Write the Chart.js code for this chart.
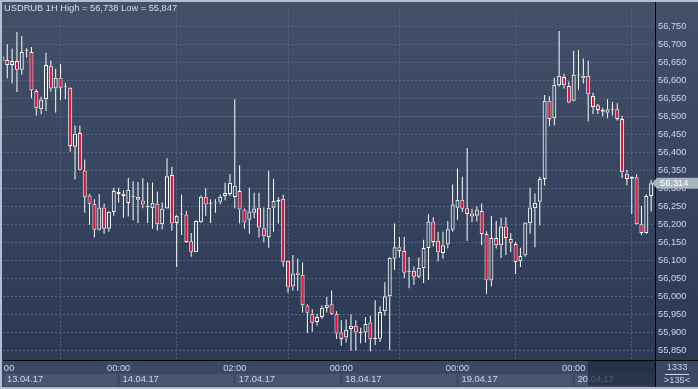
<!DOCTYPE html>
<html><head><meta charset="utf-8">
<script src="https://cdn.jsdelivr.net/npm/chart.js@4.4.1/dist/chart.umd.min.js"></script>
<style>html,body{margin:0;padding:0;background:#2f3c57;overflow:hidden}#wrap{width:698px;height:389px;position:relative}canvas{display:block}</style>
</head><body><div id="wrap"><canvas id="c" width="698" height="389"></canvas></div>
<script>
const opens = [56667,56657,56643,56654,56630,56683,56679,56571,56520,56548,
56641,56578,56608,56581,56580,56416,56454,56350,56280,56257,
56185,56247,56188,56234,56290,56285,56259,56275,56268,56266,
56248,56245,56257,56200,56244,56337,56204,56227,56227,56153,
56122,56206,56277,56257,56258,56263,56279,56284,56276,56293,
56241,56213,56232,56246,56189,56164,56246,56263,56271,56099,
56027,56066,56060,55974,55951,55928,55942,55967,55978,55951,
55899,55885,55909,55918,55898,55899,55927,55884,55882,55958,
56000,56104,56136,56126,56067,56071,56054,56078,56134,56208,
56154,56120,56144,56185,56246,56268,56245,56230,56224,56237,
56173,56044,56162,56142,56194,56159,56145,56097,56113,56203,
56245,56263,56326,56544,56495,56587,56610,56585,56544,56614,
56613,56613,56557,56531,56518,56510,56519,56520,56493,56341,
56327,56331,56200,56176,56279];
const highs = [56670,56701,56689,56735,56724,56690,56693,56576,56555,56677,
56656,56633,56646,56594,56581,56475,56474,56380,56284,56270,
56284,56258,56238,56302,56302,56295,56329,56320,56318,56328,
56316,56316,56291,56261,56384,56360,56226,56282,56238,56176,
56211,56281,56300,56270,56270,56282,56316,56340,56548,56364,
56244,56302,56288,56288,56247,56349,56327,56275,56282,56100,
56115,56104,56094,55978,55964,55951,55974,55998,56016,55958,
55933,55935,55949,55933,55912,55942,55946,55989,55972,56039,
56109,56202,56165,56165,56109,56083,56108,56157,56228,56220,
56179,56179,56209,56311,56355,56332,56412,56243,56250,56258,
56181,56223,56209,56218,56220,56176,56151,56135,56206,56302,
56286,56332,56560,56556,56608,56738,56619,56597,56683,56685,
56661,56655,56566,56535,56524,56548,56541,56537,56502,56352,
56334,56339,56252,56283,56323];
const lows = [56652,56606,56592,56568,56617,56664,56551,56503,56506,56515,
56569,56511,56546,56548,56402,56325,56350,56232,56199,56163,
56183,56174,56179,56224,56261,56218,56222,56211,56204,56245,
56204,56188,56183,56186,56243,56182,56081,56170,56149,56110,
56122,56204,56224,56204,56232,56256,56267,56279,56245,56202,
56188,56174,56217,56163,56150,56135,56179,56202,56083,56010,
56016,56015,55955,55898,55901,55918,55937,55955,55948,55881,
55862,55871,55848,55848,55869,55871,55847,55864,55873,55946,
55850,56073,56108,56051,56022,56031,56051,56037,56045,56138,
56097,56104,56133,56179,56213,56234,56154,56206,56208,56142,
56007,56027,56133,56106,56115,56122,56062,56081,56110,56174,
56136,56197,56308,56473,56475,56583,56578,56537,56542,56574,
56592,56486,56507,56507,56500,56495,56503,56489,56329,56308,
56228,56199,56170,56174,56236];
const closes = [56655,56643,56654,56630,56679,56683,56573,56523,56547,56643,
56578,56608,56580,56583,56418,56452,56352,56277,56257,56185,
56247,56188,56235,56293,56284,56279,56296,56277,56277,56255,
56248,56260,56200,56244,56334,56202,56224,56227,56151,56124,
56209,56277,56255,56258,56260,56277,56287,56315,56307,56241,
56205,56236,56244,56191,56167,56246,56265,56268,56096,56024,
56063,56058,55975,55954,55926,55942,55968,55976,55951,55896,
55881,55907,55918,55899,55898,55923,55880,55880,55956,56000,
56107,56136,56126,56065,56067,56054,56079,56134,56208,56151,
56122,56142,56186,56255,56268,56243,56229,56222,56241,56173,
56044,56162,56142,56194,56162,56149,56095,56112,56205,56247,
56260,56326,56544,56493,56588,56613,56587,56539,56616,56615,
56606,56562,56526,56518,56513,56520,56519,56493,56345,56326,
56332,56200,56176,56279,56314];
const hourTicks = [24, 48, 70, 94, 118];
const hourLabels = ['00:00', '02:00', '00:00', '00:00', '00:00'];
const firstHourLabel = '00:00';
const dayStarts = [0, 24, 48, 70, 94, 118];
const dayLabels = ['13.04.17', '14.04.17', '17.04.17', '18.04.17', '19.04.17', '20.04.17'];
const priceTicks = [55850,55900,55950,56000,56050,56100,56150,56200,56250,56300,56350,56400,56450,56500,56550,56600,56650,56700,56750];
const titleText = 'USDRUB 1H High = 56,738 Low = 55,847';
const barsTotalText = '1333';
const barsVisibleText = '>135<';

const FONT = "'Liberation Sans', Arial, sans-serif";
const FSIZE = 9.3;
const RED = '#e2163d';
const GRID = '#56647f';
const LABEL = '#c9d6ec';

function fmt(v) { return String(Math.round(v)).replace(/\B(?=(\d{3})+(?!\d))/g, ','); }

const idx = opens.map((_, i) => i);
const bodyLo = idx.map(i => Math.min(opens[i], closes[i]));
const bodyHi = idx.map(i => Math.max(opens[i], closes[i]));

const framePlugin = {
  id: 'frame',
  beforeDraw(chart) {
    const {ctx, width, height, chartArea: a, scales: {x}} = chart;
    ctx.save();
    const g = ctx.createLinearGradient(0, 0, 0, a.bottom);
    g.addColorStop(0, '#425069');
    g.addColorStop(1, '#2c3955');
    ctx.fillStyle = g;
    ctx.fillRect(0, 0, width, height);
    ctx.fillStyle = '#3b4862';
    ctx.fillRect(0, a.bottom, width, height - a.bottom);
    ctx.font = FSIZE + 'px ' + FONT;
    ctx.textBaseline = 'middle';
    for (let i = 0; i < dayStarts.length; i++) {
      const s = i === 0 ? a.left : x.getPixelForValue(dayStarts[i]);
      const e = i + 1 < dayStarts.length ? x.getPixelForValue(dayStarts[i + 1]) : a.right;
      ctx.fillStyle = '#4a5671';
      ctx.fillRect(s + 1, a.bottom + 14, e - s - 2, 12);
      ctx.fillStyle = LABEL;
      ctx.textAlign = 'left';
      ctx.fillText(dayLabels[i], s + 4, a.bottom + 19.5);
    }
    // clipped first hour label
    ctx.save();
    ctx.beginPath();
    ctx.rect(a.left, a.bottom, 60, 14);
    ctx.clip();
    ctx.textAlign = 'center';
    ctx.fillStyle = LABEL;
    ctx.fillText(firstHourLabel, x.getPixelForValue(0), a.bottom + 8.5);
    ctx.restore();
    ctx.restore();
  },
  afterDraw(chart) {
    const {ctx, width, height, chartArea: a, scales: {y}} = chart;
    ctx.save();
    // overlay on last date band
    ctx.fillStyle = 'rgba(32,42,62,0.72)';
    ctx.fillRect(588, a.bottom + 1, a.right - 588, 25);
    // axis lines
    ctx.fillStyle = '#000000';
    ctx.fillRect(a.right, 0, 1, height);
    ctx.fillRect(a.left, a.bottom, width - a.left, 1);
    // frame
    ctx.fillStyle = '#b3bdcc';
    ctx.fillRect(0, 0, width, 2);
    ctx.fillRect(0, 0, 2, height);
    ctx.fillRect(0, height - 2, width, 2);
    // title
    ctx.font = FSIZE + 'px ' + FONT;
    ctx.textBaseline = 'middle';
    ctx.textAlign = 'left';
    ctx.fillStyle = '#d3deef';
    ctx.fillText(titleText, 4, 8.5);
    // last price marker
    const last = closes[closes.length - 1];
    const py = y.getPixelForValue(last);
    ctx.fillStyle = '#aab5c4';
    ctx.beginPath();
    ctx.moveTo(a.right - 3, py);
    ctx.lineTo(a.right + 2, py - 5.5);
    ctx.lineTo(width, py - 5.5);
    ctx.lineTo(width, py + 5.5);
    ctx.lineTo(a.right + 2, py + 5.5);
    ctx.closePath();
    ctx.fill();
    ctx.fillStyle = '#ffffff';
    ctx.fillText(fmt(last), a.right + 5, py + 0.5);
    // bar count box
    ctx.fillStyle = LABEL;
    ctx.textAlign = 'center';
    ctx.fillText(barsTotalText, 677, a.bottom + 7.5);
    ctx.fillRect(665, a.bottom + 14, 24, 1);
    ctx.fillText(barsVisibleText, 677, a.bottom + 20.5);
    ctx.restore();
  }
};

new Chart(document.getElementById('c'), {
  type: 'bar',
  data: {
    datasets: [
      { label: 'upper', data: idx.map(i => ({x: i, y: [bodyHi[i], highs[i]]})),
        backgroundColor: '#ffffff', borderWidth: 0, barThickness: 1, grouped: false, inflateAmount: 0, clip: 0, order: 3 },
      { label: 'lower', data: idx.map(i => ({x: i, y: [lows[i], bodyLo[i]]})),
        backgroundColor: '#ffffff', borderWidth: 0, barThickness: 1, grouped: false, inflateAmount: 0, clip: 0, order: 2 },
      { label: 'body', data: idx.map(i => ({x: i, y: [opens[i], closes[i]]})),
        backgroundColor: idx.map(i => closes[i] < opens[i] ? RED : 'rgba(0,0,0,0)'),
        borderColor: '#ffffff', borderWidth: 1, borderSkipped: false, barThickness: 4, minBarLength: 1,
        grouped: false, inflateAmount: 0, clip: 0, order: 1 }
    ]
  },
  options: {
    responsive: false,
    animation: false,
    events: [],
    layout: { padding: { left: 3, top: 3, right: 0, bottom: 0 } },
    plugins: { legend: { display: false }, tooltip: { enabled: false } },
    scales: {
      x: {
        type: 'linear', min: 0.12, max: 134.8, offset: false,
        afterBuildTicks: s => { s.ticks = hourTicks.map(v => ({ value: v })); },
        afterFit: s => { s.height = 29; },
        grid: { color: GRID, lineWidth: 1, drawTicks: false },
        border: { display: false, dash: [2, 2] },
        ticks: { autoSkip: false, maxRotation: 0, padding: 3, color: LABEL,
          font: { family: FONT, size: FSIZE },
          callback: (v, i) => hourLabels[i] }
      },
      y: {
        type: 'linear', position: 'right', min: 55822.6, max: 56800.1,
        afterBuildTicks: s => { s.ticks = priceTicks.map(v => ({ value: v })); },
        afterFit: s => { s.width = 43; },
        grid: { color: GRID, lineWidth: 1, drawTicks: false },
        border: { display: false, dash: [2, 2] },
        ticks: { autoSkip: false, padding: 3, color: LABEL,
          font: { family: FONT, size: FSIZE },
          callback: v => fmt(v) }
      }
    }
  },
  plugins: [framePlugin]
});
</script>
</body></html>
